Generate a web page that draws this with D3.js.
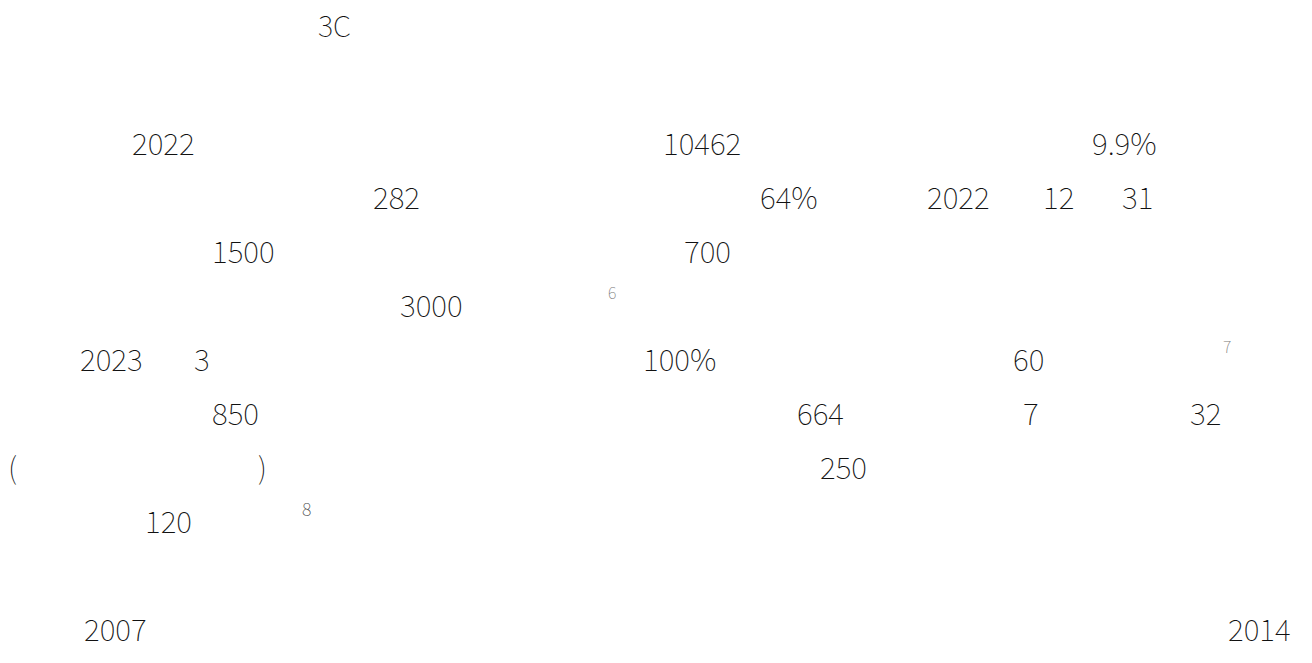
<!DOCTYPE html>
<html><head><meta charset="utf-8">
<script src="https://cdn.jsdelivr.net/npm/d3@7"></script>
<style>html,body{margin:0;padding:0;background:#fff;}svg{display:block;}</style>
</head><body>
<script>
// Visible tokens of the page, one list per text line (the CJK glyphs of the original are not rendered)
const titleTokens = ["3C"];
const line1 = ["2022", "10462", "9.9%"];
const line2 = ["282", "64%", "2022", "12", "31"];
const line3 = ["1500", "700"];
const line4 = ["3000"];
const line5 = ["2023", "3", "100%", "60"];
const line6 = ["850", "664", "7", "32"];
const line7 = ["(", ")", "250"];
const line8 = ["120"];
const line9 = ["2007", "2014"];
const footnoteMarks = ["6", "7", "8"];

// layout (x anchors in page pixels)
const lineTokens = [line1, line2, line3, line4, line5, line6, line7, line8, null, line9];
const lineX = [
  [132, 663, 1092],
  [373, 760, 927, 1043, 1122],
  [212, 684],
  [400],
  [80, 194, 643, 1013],
  [212, 797, 1023, 1190],
  [8, 258, 820],
  [145],
  null,
  [84, 1228]
];
const noteLine = [3, 4, 7];
const noteX = [608, 1223, 302];
const noteColor = ["#777", "#777", "#444"];
const noteSize = [16, 16, 18];

const W = 1312, H = 663;
const svg = d3.select("body").append("svg").attr("width", W).attr("height", H);
const y = d3.scaleLinear().domain([0, 1]).range([142, 196]);
const font = "'Noto Sans CJK SC', 'Noto Sans', sans-serif";
const fs = 30, fw = 100, ink = "#111";

svg.append("text").attr("x", 318).attr("y", 24).attr("dominant-baseline", "central")
  .attr("font-family", font).attr("font-weight", fw).attr("font-size", 29).attr("fill", ink)
  .text(titleTokens[0]);

const items = [];
lineTokens.forEach((toks, i) => {
  if (!toks) return;
  toks.forEach((t, j) => items.push({t, x: lineX[i][j], line: i}));
});
svg.selectAll("text.tok").data(items).join("text").attr("class", "tok")
  .attr("x", d => d.x).attr("y", d => y(d.line))
  .attr("dominant-baseline", "central")
  .attr("font-family", font).attr("font-weight", fw).attr("font-size", fs).attr("fill", ink)
  .text(d => d.t);

svg.selectAll("text.note").data(footnoteMarks).join("text").attr("class", "note")
  .attr("x", (d, i) => noteX[i]).attr("y", (d, i) => y(noteLine[i]) - 12)
  .attr("dominant-baseline", "central")
  .attr("font-family", font).attr("font-weight", fw).attr("font-size", (d, i) => noteSize[i])
  .attr("fill", (d, i) => noteColor[i])
  .text(d => d);
</script>
</body></html>
